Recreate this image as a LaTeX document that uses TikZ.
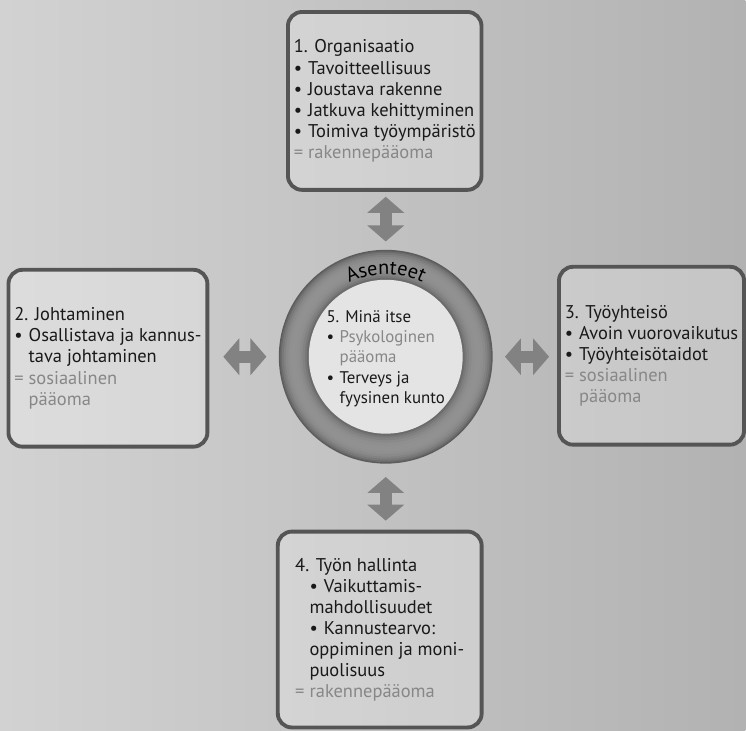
\documentclass[tikz,border=0pt]{standalone}
\usepackage{fontspec}
\setmainfont{PT Sans}
\usetikzlibrary{arrows.meta,decorations.text,calc}
\definecolor{PageLight}{RGB}{210,210,210}
\definecolor{PageDark}{RGB}{178,178,178}
\definecolor{BoxLine}{RGB}{85,85,85}
\definecolor{InkGray}{RGB}{135,135,135}
\definecolor{ArrowGray}{RGB}{130,130,130}
\definecolor{RingInner}{RGB}{228,228,228}
\newcommand{\itemmark}{\makebox[0.78em][l]{\textbullet}}
\newcommand{\eqmark}{\makebox[0.78em][l]{=}}
\newcommand{\itemgap}{\hspace*{0.78em}}

\begin{document}
\begin{tikzpicture}[
  box/.style={rectangle,draw=BoxLine,line width=2.2pt,rounded corners=8pt,fill=white,fill opacity=0.25,text opacity=1,draw opacity=1,align=left,font=\fontsize{10.5}{12}\selectfont,text=black!90},
  dbl/.style={{Triangle[width=0.72cm,length=0.32cm]}-{Triangle[width=0.72cm,length=0.32cm]},line width=0.24cm,draw=ArrowGray}
]
  \shade[left color=PageLight,right color=PageDark] (0,0) rectangle (14.92,14.62);
  \node[box,minimum width=3.4cm,minimum height=3.56cm] (org) at (7.7,12.6) {1. Organisaatio\\
    \itemmark Tavoitteellisuus\\
    \itemmark Joustava rakenne\\
    \itemmark Jatkuva kehittyminen\\
    \itemmark Toimiva työympäristö\\
    \textcolor{InkGray}{\eqmark rakennepääoma}};
  \node[box,minimum width=3.92cm,minimum height=3.54cm] (johto) at (2.16,7.45) {2. Johtaminen\\
    \itemmark Osallistava ja kannus-\\
    \itemgap tava johtaminen\\
    \textcolor{InkGray}{\eqmark sosiaalinen}\\
    \itemgap\textcolor{InkGray}{pääoma}};
  \node[box,minimum width=3.68cm,minimum height=3.56cm] (tyoyht) at (13.04,7.5) {3. Työyhteisö\\
    \itemmark Avoin vuorovaikutus\\
    \itemmark Työyhteisötaidot\\
    \textcolor{InkGray}{\eqmark sosiaalinen}\\
    \itemgap\textcolor{InkGray}{pääoma}};
  \node[box,minimum width=4.08cm,minimum height=3.92cm] (hallinta) at (7.6,2.02) {4. Työn hallinta\\
    \itemgap\itemmark Vaikuttamis-\\
    \itemgap mahdollisuudet\\
    \itemgap\itemmark Kannustearvo:\\
    \itemgap oppiminen ja moni-\\
    \itemgap puolisuus\\
    \textcolor{InkGray}{\eqmark rakennepääoma}};
  \coordinate (c) at (7.72,7.48);
  \foreach \r/\g in {2.14/64,2.11/58,2.08/53,2.04/49,2.00/46,1.95/44,1.90/43,1.84/43,1.78/44,1.72/46,1.67/49,1.62/53,1.58/58}
    \fill[black!\g] (c) circle (\r);
  \fill[RingInner] (c) circle (1.54);
  \node[align=left,font=\fontsize{9.6}{11.6}\selectfont,text=black!90] (mina) at ($(c)+(0,-0.04)$) {5. Minä itse\\
    \itemmark\textcolor{InkGray}{Psykologinen}\\
    \itemgap\textcolor{InkGray}{pääoma}\\
    \itemmark Terveys ja\\
    \itemgap fyysinen kunto};
  \node[circle,minimum size=4.28cm,inner sep=0pt] (ring) at (c) {};
  \path[decorate,decoration={text along path,text align=center,text={|\fontsize{11.5}{12}\selectfont|Asenteet}}]
    ($(c)+(150:1.65)$) arc (150:30:1.65);
  \draw[dbl,shorten <=0.16cm,shorten >=0.1cm] (ring.north) -- (ring.north |- org.south);
  \draw[dbl,shorten <=0.26cm,shorten >=0.18cm] (ring.south) -- (ring.south |- hallinta.north);
  \draw[dbl,shorten <=0.24cm,shorten >=0.28cm] (ring.west) -- (ring.west -| johto.east);
  \draw[dbl,shorten <=0.24cm,shorten >=0.16cm] (ring.east) -- (ring.east -| tyoyht.west);
\end{tikzpicture}
\end{document}
